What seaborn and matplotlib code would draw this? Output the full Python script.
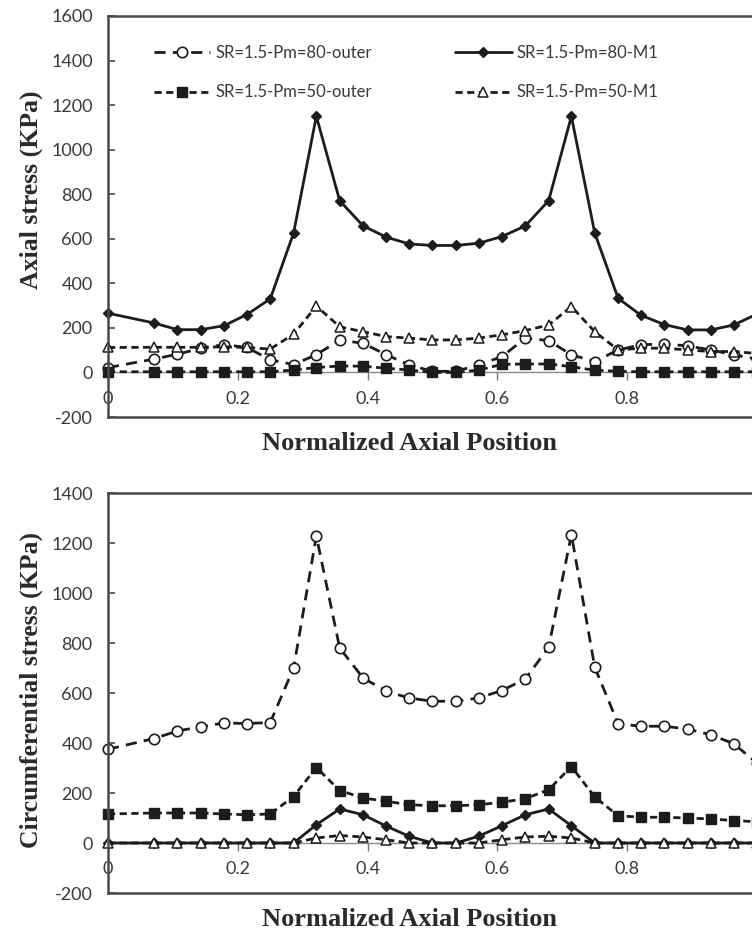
import matplotlib
matplotlib.use("Agg")
import matplotlib.pyplot as plt
import seaborn as sns

# ---------------- data ----------------
x_pos = [0.0, 0.071, 0.107, 0.143, 0.179, 0.214, 0.25, 0.286, 0.321, 0.357,
         0.393, 0.429, 0.464, 0.5, 0.536, 0.571, 0.607, 0.643, 0.679, 0.714,
         0.75, 0.786, 0.821, 0.857, 0.893, 0.929, 0.964, 1.0]

labels = ["SR=1.5-Pm=80-outer", "SR=1.5-Pm=50-outer",
          "SR=1.5-Pm=80-M1", "SR=1.5-Pm=50-M1"]

axial_80_outer = [22, 60, 82, 108, 125, 112, 57, 35, 80, 145, 131, 79, 34, 5,
                  5, 34, 71, 154, 143, 79, 49, 101, 124, 128, 119, 101, 79, 60]
axial_50_outer = [3, 3, 3, 3, 3, 3, 3, 11, 22, 29, 28, 19, 11, 0,
                  0, 11, 36, 38, 38, 26, 10, 5, 3, 3, 3, 3, 3, 3]
axial_80_m1 = [266, 222, 192, 192, 210, 260, 330, 626, 1150, 771, 658, 607, 577, 570,
               570, 580, 610, 658, 771, 1150, 626, 333, 257, 215, 191, 191, 213, 262]
axial_50_m1 = [112, 113, 113, 113, 115, 112, 105, 172, 298, 205, 183, 161, 154, 146,
               146, 154, 169, 188, 213, 296, 183, 101, 109, 109, 101, 94, 94, 85]

circ_80_outer = [375, 418, 448, 465, 480, 478, 482, 700, 1228, 780, 660, 607, 580, 567,
                 567, 580, 610, 656, 783, 1234, 703, 477, 467, 467, 456, 433, 397, 320]
circ_50_outer = [116, 120, 120, 120, 116, 113, 116, 186, 302, 210, 180, 167, 153, 149,
                 149, 153, 163, 177, 213, 306, 184, 109, 103, 103, 100, 96, 90, 85]
circ_80_m1 = [0, 0, 0, 0, 0, 0, 0, 0, 73, 136, 113, 67, 27, 0,
              0, 27, 69, 113, 136, 69, 0, 0, 0, 0, 0, 0, 0, 0]
circ_50_m1 = [0, 0, 0, 0, 0, 0, 0, 0, 20, 30, 24, 13, 0, 0,
              0, 0, 13, 24, 27, 20, 0, 0, 0, 0, 0, 0, 0, 0]

x_ticks = [0, 0.2, 0.4, 0.6, 0.8]
x_ticklabels = ["0", "0.2", "0.4", "0.6", "0.8"]
top_yticks = [-200, 0, 200, 400, 600, 800, 1000, 1200, 1400, 1600]
bot_yticks = [-200, 0, 200, 400, 600, 800, 1000, 1200, 1400]

# ---------------- style ----------------
sns.set_style("white")
plt.rcParams["font.family"] = ["Lato", "DejaVu Sans"]

INK = "#1c1c1c"
TXT = "#3a3a3a"
SPINE = "#4a4a4a"
SERIF = ["Liberation Serif", "DejaVu Serif"]

styles = {
    "SR=1.5-Pm=80-outer": dict(marker="o", ls=(0, (4.0, 2.6)), ms=7.5, mfc="white",
                               mec=INK, mew=1.2),
    "SR=1.5-Pm=50-outer": dict(marker="s", ls=(0, (2.6, 1.6)), ms=7.0, mfc=INK,
                               mec=INK, mew=1.0),
    "SR=1.5-Pm=80-M1": dict(marker="D", ls="-", ms=5.0, mfc=INK, mec=INK, mew=1.0),
    "SR=1.5-Pm=50-M1": dict(marker="^", ls=(0, (2.6, 1.6)), ms=7.5, mfc="white",
                            mec=INK, mew=1.1),
}

fig = plt.figure(figsize=(7.52, 9.42), dpi=100)
ax_top = fig.add_axes([108 / 752, 1 - 417 / 942, 649 / 752, 401 / 942])
ax_bot = fig.add_axes([108 / 752, 1 - 893 / 942, 649 / 752, 400 / 942])

panels = [
    (ax_top, [axial_80_outer, axial_50_outer, axial_80_m1, axial_50_m1],
     (-200, 1600), top_yticks, "Axial stress (KPa)", 0.566),
    (ax_bot, [circ_80_outer, circ_50_outer, circ_80_m1, circ_50_m1],
     (-200, 1400), bot_yticks, "Circumferential stress (KPa)", 0.5075),
]

for ax, series, ylim, yticks, ylab, ylab_y in panels:
    for lab, vals in zip(labels, series):
        st = styles[lab]
        sns.lineplot(x=x_pos, y=vals, ax=ax, color=INK, lw=2.0,
                     linestyle=st["ls"], marker=st["marker"], markersize=st["ms"],
                     markerfacecolor=st["mfc"], markeredgecolor=st["mec"],
                     markeredgewidth=st["mew"], label=lab, legend=False,
                     clip_on=False)
    ax.set_xlim(0, 1)
    ax.set_ylim(*ylim)
    ax.set_yticks(yticks)
    ax.set_yticklabels([str(t) for t in yticks])
    ax.tick_params(axis="y", direction="in", length=5, width=1.2, color=SPINE,
                   labelsize=13, labelcolor=TXT, pad=11, left=True)
    ax.tick_params(axis="x", bottom=False, labelbottom=False)
    ax.set_xlabel("")
    ax.set_ylabel("")
    for side in ["left", "top", "bottom", "right"]:
        ax.spines[side].set_color(SPINE)
        ax.spines[side].set_linewidth(1.8)

    # horizontal category axis crossing at y = 0
    frac0 = (0 - ylim[0]) / (ylim[1] - ylim[0])
    sec = ax.secondary_xaxis(frac0)
    sec.set_xticks(x_ticks)
    sec.set_xticklabels(x_ticklabels)
    sec.tick_params(axis="x", direction="out", length=6, width=1.0, color="#777777",
                    labelsize=13, labelcolor=TXT, pad=7)
    sec.spines["bottom"].set_color("#8a8a8a")
    sec.spines["bottom"].set_linewidth(1.0)

    ax.text(-0.118, ylab_y, ylab, transform=ax.transAxes, rotation=90,
            ha="center", va="center", fontsize=18.5, fontweight="bold",
            family=SERIF, color="#2a2a2a")
    ax.text(0.465, -0.066, "Normalized Axial Position", transform=ax.transAxes,
            ha="center", va="center", fontsize=19, fontweight="bold",
            family=SERIF, color="#2a2a2a")

leg = ax_top.legend(loc="upper left", bbox_to_anchor=(0.047, 0.965), ncol=2,
                    frameon=False, fontsize=12, handlelength=3.4,
                    handletextpad=0.3, columnspacing=5.0, labelspacing=1.4,
                    numpoints=1)
for t in leg.get_texts():
    t.set_color(TXT)

fig.savefig("out.png", dpi=100)
